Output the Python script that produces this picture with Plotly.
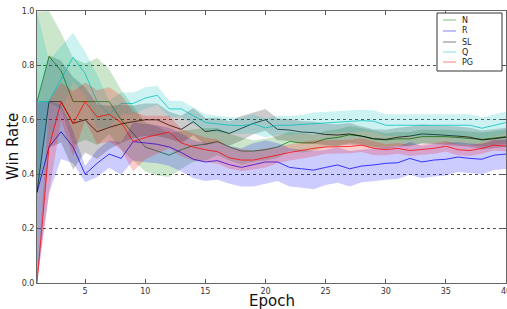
import plotly.graph_objects as go

epochs = list(range(1, 41))

n_mean = [0.667, 0.833, 0.78, 0.667, 0.667, 0.667, 0.667, 0.60, 0.55, 0.50,
          0.485, 0.47, 0.49, 0.505, 0.51, 0.52, 0.50, 0.485, 0.485, 0.49,
          0.50, 0.52, 0.515, 0.515, 0.53, 0.535, 0.545, 0.54, 0.53, 0.526,
          0.53, 0.53, 0.538, 0.538, 0.538, 0.535, 0.532, 0.528, 0.533, 0.538]
n_std = [0.33, 0.17, 0.14, 0.16, 0.14, 0.16, 0.12, 0.11, 0.10, 0.09,
         0.09, 0.08, 0.07, 0.06, 0.06, 0.05, 0.05, 0.05, 0.04, 0.04,
         0.04, 0.035, 0.035, 0.03, 0.03, 0.03, 0.03, 0.03, 0.03, 0.025,
         0.025, 0.025, 0.025, 0.025, 0.025, 0.025, 0.025, 0.025, 0.025, 0.025]

r_mean = [0.333, 0.50, 0.556, 0.50, 0.40, 0.44, 0.474, 0.458, 0.52, 0.514,
          0.51, 0.50, 0.48, 0.455, 0.445, 0.45, 0.435, 0.425, 0.435, 0.445,
          0.445, 0.425, 0.42, 0.415, 0.425, 0.434, 0.42, 0.43, 0.434, 0.44,
          0.442, 0.458, 0.445, 0.452, 0.455, 0.463, 0.458, 0.455, 0.47, 0.474]
r_std = [0.33, 0.17, 0.10, 0.06, 0.03, 0.05, 0.05, 0.06, 0.07, 0.07,
         0.07, 0.07, 0.07, 0.07, 0.07, 0.07, 0.07, 0.07, 0.08, 0.08,
         0.07, 0.07, 0.07, 0.07, 0.065, 0.065, 0.065, 0.06, 0.06, 0.06,
         0.06, 0.06, 0.06, 0.06, 0.06, 0.055, 0.055, 0.055, 0.055, 0.055]

sl_mean = [0.333, 0.667, 0.667, 0.587, 0.60, 0.556, 0.572, 0.585, 0.593, 0.60,
           0.60, 0.58, 0.565, 0.593, 0.557, 0.5625, 0.55, 0.569, 0.587, 0.60,
           0.565, 0.5625, 0.555, 0.553, 0.546, 0.544, 0.548, 0.54, 0.53, 0.528,
           0.536, 0.54, 0.548, 0.546, 0.544, 0.54, 0.536, 0.526, 0.53, 0.536]
sl_std = [0.33, 0.17, 0.15, 0.17, 0.12, 0.10, 0.08, 0.07, 0.06, 0.06,
          0.06, 0.05, 0.05, 0.05, 0.05, 0.045, 0.045, 0.045, 0.04, 0.04,
          0.04, 0.04, 0.04, 0.04, 0.04, 0.04, 0.04, 0.035, 0.035, 0.035,
          0.035, 0.035, 0.035, 0.035, 0.035, 0.035, 0.035, 0.035, 0.035, 0.035]

q_mean = [0.667, 0.667, 0.75, 0.83, 0.77, 0.667, 0.62, 0.66, 0.66, 0.68,
          0.69, 0.64, 0.64, 0.615, 0.59, 0.585, 0.58, 0.578, 0.585, 0.57,
          0.58, 0.58, 0.583, 0.587, 0.59, 0.592, 0.595, 0.597, 0.595, 0.58,
          0.58, 0.58, 0.58, 0.58, 0.58, 0.58, 0.58, 0.569, 0.58, 0.59]
q_std = [0.33, 0.15, 0.12, 0.09, 0.08, 0.10, 0.05, 0.04, 0.04, 0.04,
         0.035, 0.03, 0.03, 0.03, 0.03, 0.03, 0.03, 0.03, 0.035, 0.035,
         0.035, 0.035, 0.035, 0.04, 0.04, 0.04, 0.04, 0.04, 0.04, 0.04,
         0.04, 0.04, 0.04, 0.04, 0.04, 0.04, 0.04, 0.04, 0.04, 0.04]

pg_mean = [0.0, 0.50, 0.667, 0.585, 0.667, 0.61, 0.62, 0.59, 0.52, 0.535,
           0.545, 0.555, 0.515, 0.50, 0.49, 0.483, 0.46, 0.452, 0.452, 0.46,
           0.47, 0.48, 0.488, 0.495, 0.50, 0.50, 0.502, 0.507, 0.495, 0.49,
           0.495, 0.487, 0.49, 0.495, 0.503, 0.49, 0.487, 0.495, 0.507, 0.503]
pg_std = [0.0, 0.17, 0.07, 0.12, 0.07, 0.10, 0.10, 0.10, 0.11, 0.08,
          0.07, 0.06, 0.05, 0.05, 0.045, 0.045, 0.04, 0.04, 0.035, 0.035,
          0.03, 0.03, 0.03, 0.03, 0.025, 0.025, 0.025, 0.025, 0.025, 0.02,
          0.02, 0.02, 0.02, 0.02, 0.02, 0.02, 0.02, 0.02, 0.02, 0.02]

series_names = ["N", "R", "SL", "Q", "PG"]
x_ticks = [5, 10, 15, 20, 25, 30, 35, 40]
y_ticks = [0.0, 0.2, 0.4, 0.6, 0.8, 1.0]

series = [
    ("N", n_mean, n_std, (0, 128, 0)),
    ("R", r_mean, r_std, (0, 0, 255)),
    ("SL", sl_mean, sl_std, (0, 0, 0)),
    ("Q", q_mean, q_std, (0, 191, 191)),
    ("PG", pg_mean, pg_std, (255, 0, 0)),
]

fig = go.Figure()
for name, m, s, c in series:
    upper = [min(1.0, a + b) for a, b in zip(m, s)]
    lower = [max(0.0, a - b) for a, b in zip(m, s)]
    fig.add_trace(go.Scatter(
        x=epochs + epochs[::-1], y=upper + lower[::-1],
        fill="toself", fillcolor=f"rgba({c[0]},{c[1]},{c[2]},0.2)",
        line=dict(width=0), mode="lines", hoverinfo="skip", showlegend=False))
    fig.add_trace(go.Scatter(
        x=epochs, y=m, mode="lines", name=name,
        line=dict(color=f"rgba({c[0]},{c[1]},{c[2]},0.75)", width=1),
        showlegend=False))

# manual legend
L = dict(l=37, r=1, t=11, b=26)
W, H = 507, 309
pw, ph = W - L["l"] - L["r"], H - L["t"] - L["b"]
def px(xp): return (xp - L["l"]) / pw
def py(yp): return (H - L["b"] - yp) / ph

shapes = [dict(type="rect", xref="paper", yref="paper",
               x0=px(437), x1=px(502), y0=py(71), y1=py(13),
               line=dict(color="#333", width=1), fillcolor="white", layer="above")]
annotations = []
item_y = [20, 31, 42, 52, 62]
for (name, m, s, c), yy in zip(series, item_y):
    shapes.append(dict(type="line", xref="paper", yref="paper",
                       x0=px(443), x1=px(456), y0=py(yy), y1=py(yy),
                       line=dict(color=f"rgba({c[0]},{c[1]},{c[2]},0.5)", width=1),
                       layer="above"))
    annotations.append(dict(text=name, xref="paper", yref="paper",
                            x=px(460), y=py(yy), xanchor="left", yanchor="middle",
                            showarrow=False, font=dict(size=8, color="#222")))

annotations.append(dict(text="Epoch", xref="paper", yref="paper",
                        x=px(272), y=py(301), xanchor="center", yanchor="middle",
                        showarrow=False, font=dict(size=15, color="#111")))
annotations.append(dict(text="Win Rate", xref="paper", yref="paper",
                        x=px(13), y=py(147), xanchor="center", yanchor="middle",
                        textangle=-90, showarrow=False, font=dict(size=15, color="#111")))

fig.update_layout(
    width=W, height=H, margin=dict(L, autoexpand=False),
    paper_bgcolor="white", plot_bgcolor="white",
    font=dict(family="DejaVu Sans", size=8, color="#333"),
    shapes=shapes, annotations=annotations, showlegend=False,
)
fig.update_xaxes(range=[1, 40], tickvals=x_ticks, ticks="inside", ticklen=4,
                 tickcolor="#555", showline=True, linecolor="#666", linewidth=1,
                 mirror="allticks", showgrid=False, zeroline=False,
                 ticklabeloverflow="allow", automargin=False,
                 tickfont=dict(size=8, color="#333"))
fig.update_yaxes(range=[0, 1], tickvals=y_ticks, tickformat=".1f", ticks="inside",
                 ticklen=4, tickcolor="#555", showline=True, linecolor="#666",
                 linewidth=1, mirror="allticks", showgrid=True, gridcolor="#555",
                 griddash="dot", gridwidth=1, zeroline=False, automargin=False,
                 tickfont=dict(size=8, color="#333"))

fig.write_html("out.html", config={"displayModeBar": False},
               post_script="document.body.style.margin='0px';document.body.style.overflow='hidden';")
